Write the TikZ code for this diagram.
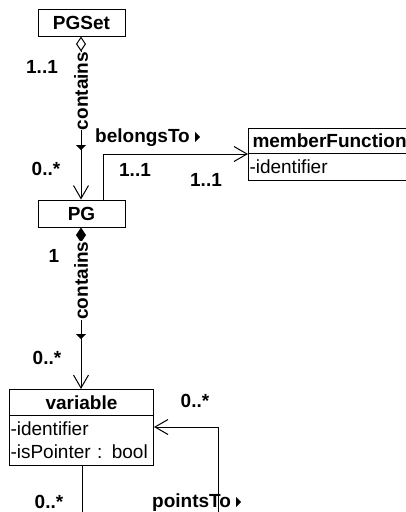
\documentclass[tikz,border=0pt]{standalone}
\usepackage{fontspec}
\setmainfont{Liberation Sans}
\usetikzlibrary{arrows.meta,calc}
\begin{document}
\begin{tikzpicture}[x=1pt,y=-1pt,
  txt/.style={font=\fontsize{19}{23}\selectfont},
  bold/.style={font=\fontsize{19}{23}\selectfont\bfseries},
  box/.style={draw, line width=1pt, inner sep=0pt, bold},
  mult/.style={inner sep=0pt, bold},
  rolelbl/.style={inner sep=0pt, bold, rotate=90, fill=white},
  link/.style={line width=1pt},
  openhead/.style={-{Straight Barb[length=13pt,width=15pt]}},
  aggr/.style={{Diamond[open,length=15pt,width=10pt]}-{Straight Barb[length=13pt,width=15pt]}},
  compo/.style={{Diamond[length=15pt,width=10pt]}-{Straight Barb[length=13pt,width=15pt]}},
  dirdown/.pic={\fill (-5,-5) -- (5,-5) -- (0,0) -- cycle;},
  dirright/.pic={\fill (-5,-5) -- (-5,5) -- (0,0) -- cycle;}
]
\useasboundingbox (0,0) rectangle (406,512);
\clip (0,0) rectangle (406,512);

% classes
\node[box, minimum width=87pt, minimum height=27pt] (pgset) at (81.5,22.5) {PGSet};
\node[box, minimum width=87pt, minimum height=27pt] (pg) at (81.5,213.5) {PG};

\node[draw, line width=1pt, bold, anchor=north west, inner xsep=4pt, inner ysep=0pt,
      text width=150pt, align=left, minimum height=25pt] (mfh) at (248,128) {memberFunction};
\node[draw, line width=1pt, txt, anchor=north west, inner xsep=1pt, inner ysep=0pt,
      text width=156pt, align=left, minimum height=27pt] (mfb) at (248,153) {-identifier};

\node[box, anchor=north west, minimum width=144pt, minimum height=26pt] (vh) at (9,389) {variable};
\node[draw, line width=1pt, txt, anchor=north west, inner xsep=1pt, inner ysep=0pt,
      text width=142pt, align=left, minimum height=50pt] (vb) at (9,415) {-identifier\\-isPointer : bool};

% free ends running off the bottom
\coordinate (ptfoot) at (218,516);
\coordinate (vfoot) at (82,516);

% associations
\draw[link, aggr] (pgset.south -| 81,0) -- (pg.north -| 81,0);
\draw[link, openhead] ([xshift=21.5pt]pg.north) |- (mfh.south west);
\draw[link, compo] (pg.south -| 81,0) -- (vh.north -| 81,0);
\draw[link, openhead] (ptfoot) |- ([yshift=-12pt]vb.north east);
\draw[link] (vb.south -| vfoot) -- (vfoot);

% role names and direction marks
\node[rolelbl] (c1) at (81,91) {contains};
\pic at (81,150) {dirdown};
\node[rolelbl] (c2) at (81,280.5) {contains};
\pic at (81,339) {dirdown};

\node[mult, anchor=base west] (bt) at (95,142) {belongsTo};
\pic at ($(bt.base east)+(10,-5)$) {dirright};
\node[mult, anchor=base west] (pt) at (152,507) {pointsTo};
\pic at ($(pt.base east)+(10,-5)$) {dirright};

% multiplicities
\node[mult] (m1) at (42,67) {1..1};
\node[mult] (m2) at (46,169) {0..*};
\node[mult] (m3) at (135,170) {1..1};
\node[mult] (m4) at (206,180) {1..1};
\node[mult] (m5) at (54,256) {1};
\node[mult] (m6) at (47,358) {0..*};
\node[mult] (m7) at (195,401) {0..*};
\node[mult] (m8) at (49,502) {0..*};
\end{tikzpicture}
\end{document}
